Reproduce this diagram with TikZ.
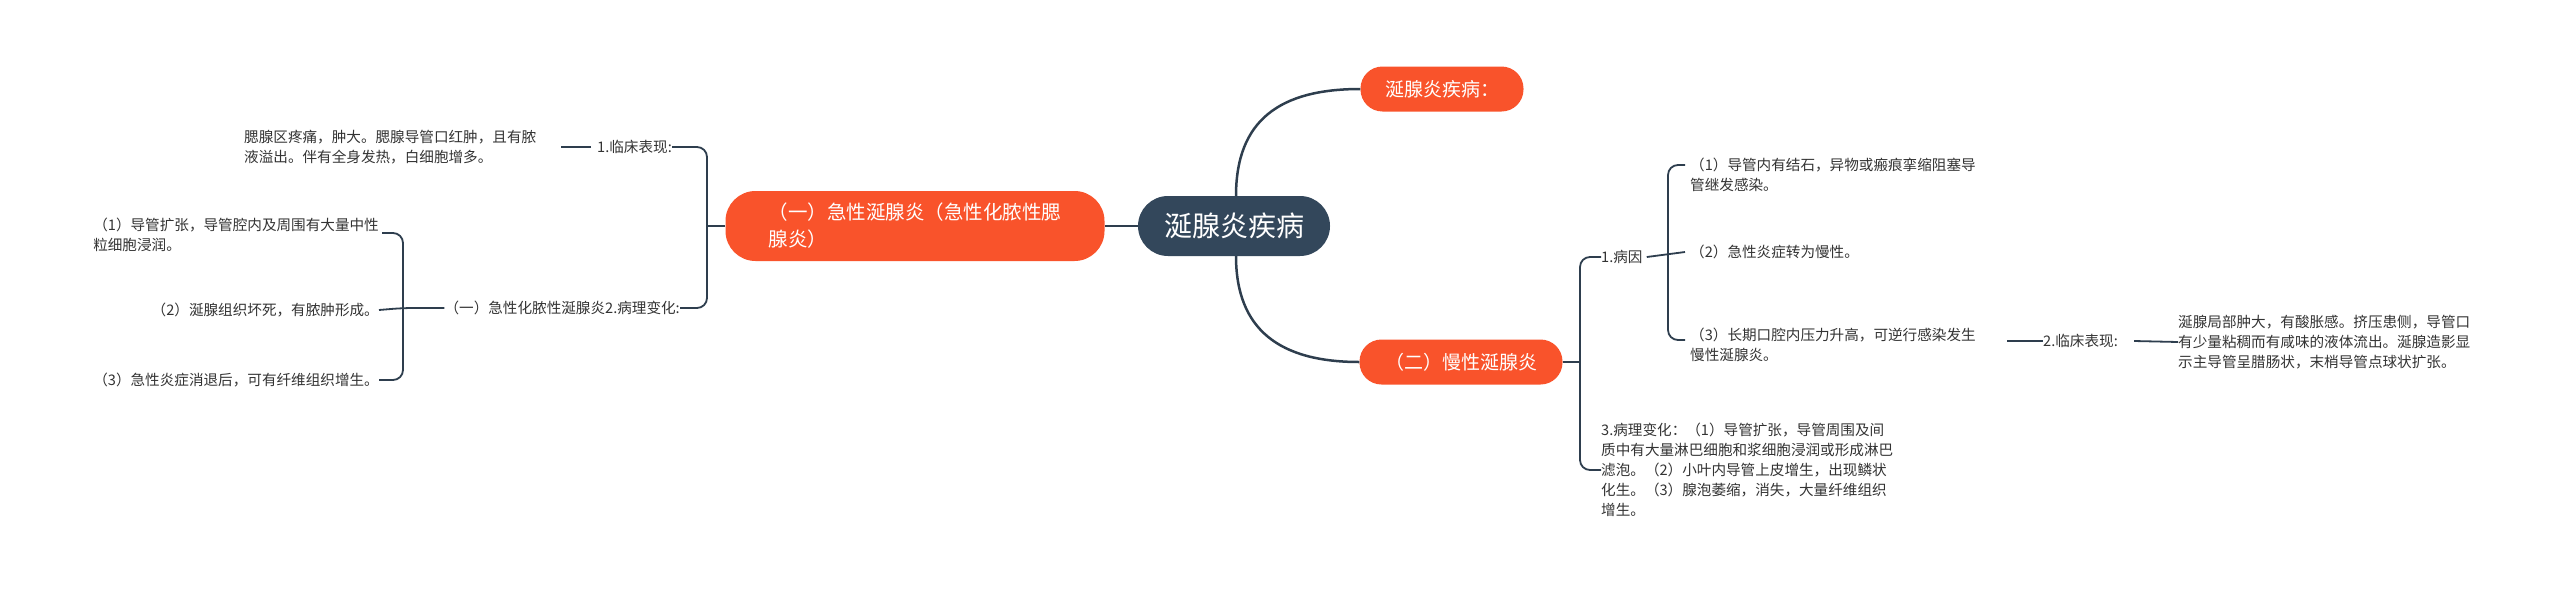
\documentclass[tikz,border=0pt]{standalone}
\usepackage{fontspec}
\setmainfont{Noto Sans CJK SC}
\begin{document}
\begin{tikzpicture}[x=1pt,y=-1pt,
  ln/.style={draw=lineC,line width=1.8pt,rounded corners=10pt},
  txt/.style={inner sep=0pt,font=\fontsize{14.6}{20}\selectfont,text=txtC,align=left},
  orng/.style={fill=orC,rounded corners=22pt,text=white,inner sep=0pt}]
\definecolor{orC}{HTML}{F9532B}
\definecolor{rootC}{HTML}{33475B}
\definecolor{lineC}{HTML}{2E3E4E}
\definecolor{txtC}{HTML}{333333}
\useasboundingbox (0,0) rectangle (2560,592);
% root
\node[fill=rootC,rounded corners=30pt,minimum width=192pt,minimum height=60pt,text=white,font=\fontsize{28}{32}\selectfont,inner sep=0pt] (root) at (1234,226) {涎腺炎疾病};
\node[orng,minimum width=163pt,minimum height=45pt,font=\fontsize{19}{22}\selectfont] (top) at (1442,89) {涎腺炎疾病：};
\node[orng,minimum width=203pt,minimum height=45pt,font=\fontsize{19}{22}\selectfont] (chr) at (1461,362) {（二）慢性涎腺炎};
\node[orng,rounded corners=30pt,minimum width=379pt,minimum height=70pt,font=\fontsize{19.5}{27}\selectfont,align=left] (ac) at (915,226) {（一）急性涎腺炎（急性化脓性腮\\腺炎）};
\draw[lineC,line width=2.5pt] (1236,196) .. controls (1236,120) and (1280,89) .. (top.west);
\draw[lineC,line width=2.5pt] (1236,256) .. controls (1236,330) and (1280,362) .. (chr.west);
\draw[lineC,line width=2.5pt] (root.west) -- (ac.east);
% acute side
\node[txt,anchor=west] (a1) at (597,147) {1.临床表现:};
\node[txt,anchor=west] (a1t) at (244,147) {腮腺区疼痛，肿大。腮腺导管口红肿，且有脓\\液溢出。伴有全身发热，白细胞增多。};
\node[txt,anchor=east] (a2) at (680,308) {（一）急性化脓性涎腺炎2.病理变化:};
\node[txt,anchor=east] (g1) at (379,235) {（1）导管扩张，导管腔内及周围有大量中性\\粒细胞浸润。\phantom{导管腔内及周围有大量中性}};
\node[txt,anchor=east] (g2) at (379,310) {（2）涎腺组织坏死，有脓肿形成。};
\node[txt,anchor=east] (g3) at (379,380) {（3）急性炎症消退后，可有纤维组织增生。};
\coordinate (bA) at (707,226);
\draw[ln] (a1.east) -- (707,147) -- (707,308) -- (a2.east);
\draw[ln] (ac.west) -- (bA);
\draw[ln] (a1.west) ++(-6,0) -- ++(-30,0);
\coordinate (bB) at (403,308);
\draw[ln] (382,233) -- (403,233) -- (403,380) -- (g3.east);
\draw[ln] (a2.west) -- (bB) -- (g2.east);
% chronic side
\node[txt,anchor=west] (c1) at (1601,257) {1.病因};
\node[txt,anchor=west] (c3) at (1601,470) {3.病理变化：（1）导管扩张，导管周围及间\\质中有大量淋巴细胞和浆细胞浸润或形成淋巴\\滤泡。（2）小叶内导管上皮增生，出现鳞状\\化生。（3）腺泡萎缩，消失，大量纤维组织\\增生。};
\draw[ln] (chr.east) -- (1580,362);
\draw[ln] (c1.west) -- (1580,257) -- (1580,470) -- (c3.west);
\node[txt,anchor=west] (d1) at (1690,175) {（1）导管内有结石，异物或瘢痕挛缩阻塞导\\管继发感染。};
\node[txt,anchor=west] (d2) at (1690,252) {（2）急性炎症转为慢性。};
\node[txt,anchor=west] (d3) at (1690,345) {（3）长期口腔内压力升高，可逆行感染发生\\慢性涎腺炎。};
\draw[ln] (1685,165) -- (1668,165) -- (1668,340) -- (1685,340);
\draw[ln] (c1.east) ++(4,0) -- (1685,252);
\node[txt,anchor=west] (e1) at (2043,341) {2.临床表现:};
\node[txt,anchor=west] (e2) at (2178,342) {涎腺局部肿大，有酸胀感。挤压患侧，导管口\\有少量粘稠而有咸味的液体流出。涎腺造影显\\示主导管呈腊肠状，末梢导管点球状扩张。};
\draw[ln] (2007,341) -- (e1.west);
\draw[ln] (e1.east) ++(16,0) -- (e2.west);
\end{tikzpicture}
\end{document}
